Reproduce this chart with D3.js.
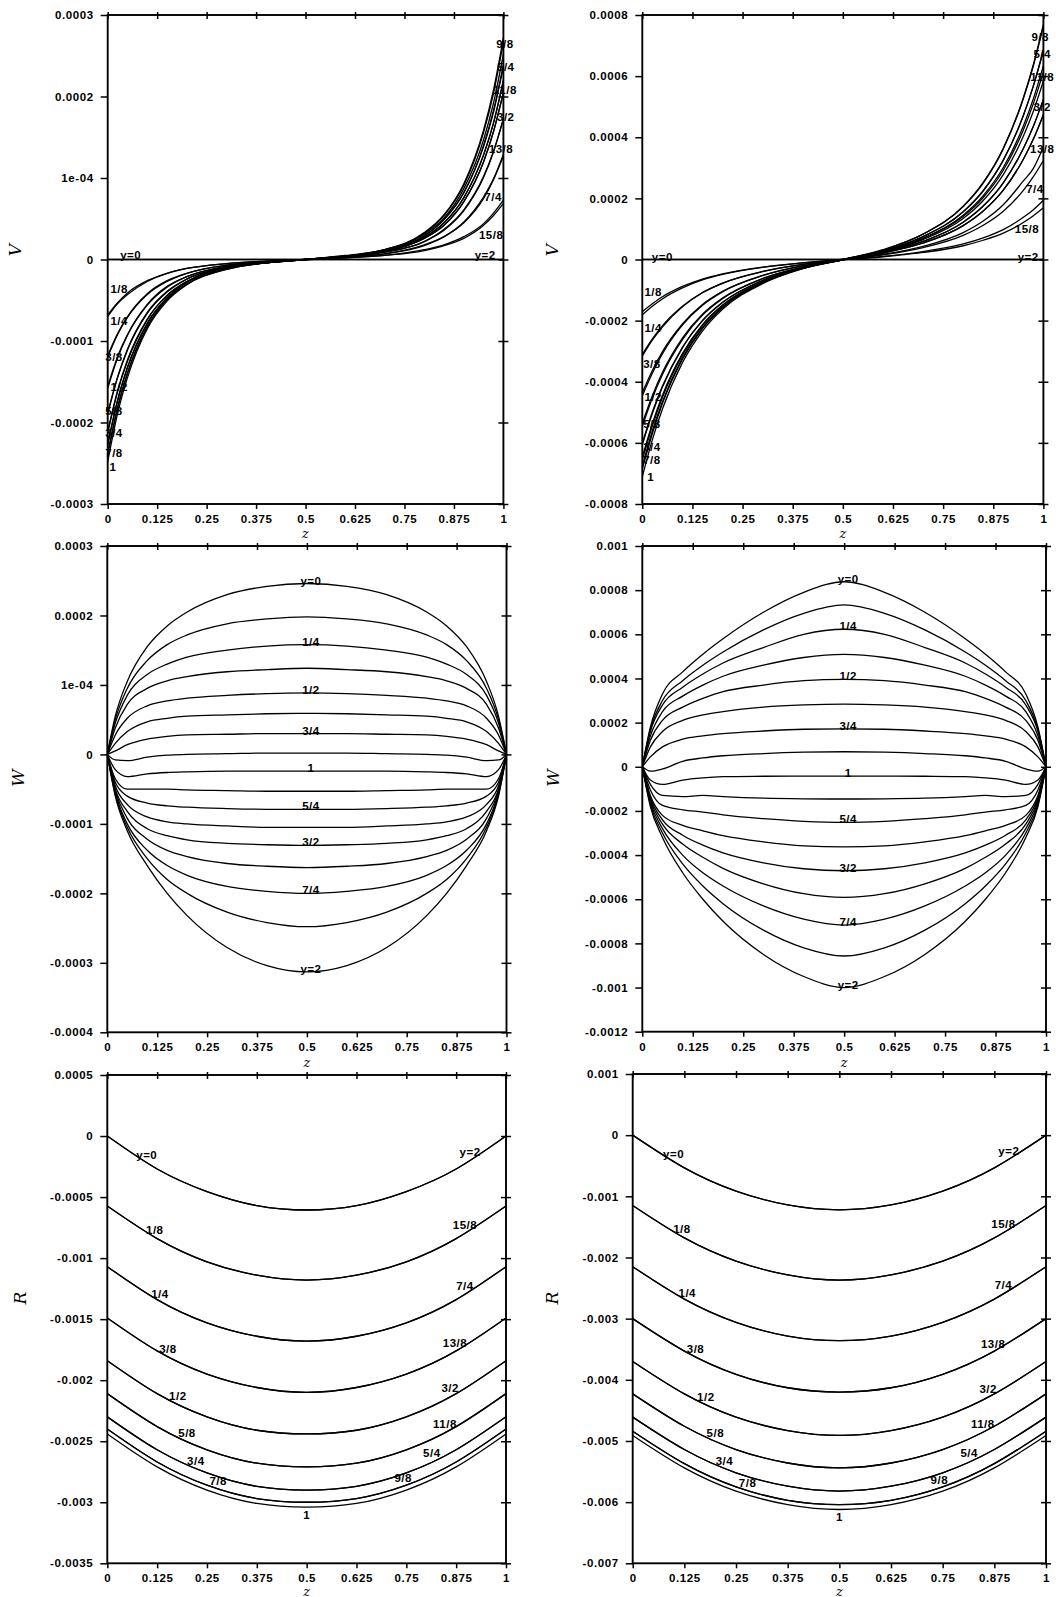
<!DOCTYPE html>
<html>
<head>
<meta charset="utf-8">
<script src="https://cdn.jsdelivr.net/npm/d3@7"></script>
<style>
  body { margin: 0; background: #fff; }
</style>
</head>
<body>
<svg id="fig" width="1056" height="1597"></svg>
<script>
// all values are in units of 1e-4
const curveNames = ['y=0', '1/8', '1/4', '3/8', '1/2', '5/8', '3/4', '7/8', '1',
  '9/8', '5/4', '11/8', '3/2', '13/8', '7/4', '15/8', 'y=2'];

const zTicks = [0, 0.125, 0.25, 0.375, 0.5, 0.625, 0.75, 0.875, 1];
const zTickText = ['0', '0.125', '0.25', '0.375', '0.5', '0.625', '0.75', '0.875', '1'];

// ---- V ----
const vZ = [0, 0.025, 0.05, 0.1, 0.15, 0.2, 0.3, 0.4, 0.5, 0.6, 0.7, 0.8, 0.85, 0.9, 0.95, 0.975, 1];
const zero17 = [0, 0, 0, 0, 0, 0, 0, 0, 0, 0, 0, 0, 0, 0, 0, 0, 0];
const vLeft = [
  zero17,
  [-0.68, -0.53, -0.41, -0.26, -0.17, -0.11, -0.05, -0.02, 0.00, 0.02, 0.05, 0.11, 0.17, 0.26, 0.42, 0.54, 0.69],
  [-1.18, -0.91, -0.70, -0.42, -0.26, -0.17, -0.07, -0.03, 0.00, 0.03, 0.07, 0.17, 0.28, 0.45, 0.75, 0.98, 1.27],
  [-1.56, -1.19, -0.92, -0.55, -0.33, -0.21, -0.08, -0.03, 0.00, 0.03, 0.09, 0.22, 0.36, 0.60, 1.01, 1.32, 1.72],
  [-1.88, -1.44, -1.10, -0.65, -0.39, -0.24, -0.10, -0.04, 0.00, 0.04, 0.10, 0.26, 0.42, 0.71, 1.20, 1.57, 2.05],
  [-2.11, -1.61, -1.23, -0.73, -0.44, -0.27, -0.10, -0.04, 0.00, 0.04, 0.10, 0.27, 0.45, 0.76, 1.28, 1.67, 2.19],
  [-2.26, -1.72, -1.32, -0.78, -0.47, -0.28, -0.11, -0.04, 0.00, 0.04, 0.11, 0.29, 0.49, 0.82, 1.39, 1.81, 2.37],
  [-2.38, -1.81, -1.39, -0.82, -0.49, -0.30, -0.11, -0.04, 0.00, 0.04, 0.12, 0.32, 0.54, 0.91, 1.56, 2.04, 2.67],
  [-2.48, -1.89, -1.45, -0.85, -0.51, -0.31, -0.12, -0.04, 0.00, 0.04, 0.12, 0.31, 0.51, 0.87, 1.47, 1.92, 2.52],
  [-2.40, -1.83, -1.40, -0.83, -0.49, -0.30, -0.12, -0.04, 0.00, 0.05, 0.12, 0.33, 0.55, 0.93, 1.59, 2.08, 2.72],
  [-2.28, -1.74, -1.33, -0.79, -0.47, -0.28, -0.11, -0.04, 0.00, 0.04, 0.11, 0.29, 0.49, 0.82, 1.40, 1.83, 2.39],
  [-2.13, -1.62, -1.25, -0.74, -0.44, -0.27, -0.10, -0.04, 0.00, 0.04, 0.10, 0.27, 0.45, 0.76, 1.29, 1.68, 2.20],
  [-1.90, -1.45, -1.11, -0.66, -0.40, -0.24, -0.10, -0.04, 0.00, 0.04, 0.10, 0.26, 0.42, 0.71, 1.20, 1.57, 2.05],
  [-1.58, -1.21, -0.93, -0.56, -0.34, -0.21, -0.09, -0.03, 0.00, 0.03, 0.09, 0.22, 0.37, 0.61, 1.02, 1.33, 1.73],
  [-1.20, -0.92, -0.71, -0.43, -0.27, -0.17, -0.07, -0.03, 0.00, 0.03, 0.07, 0.18, 0.28, 0.46, 0.77, 0.99, 1.29],
  [-0.70, -0.54, -0.43, -0.27, -0.17, -0.11, -0.05, -0.02, 0.00, 0.02, 0.05, 0.12, 0.18, 0.28, 0.44, 0.57, 0.73],
  zero17
];
const vRight = [
  zero17,
  [-1.71, -1.45, -1.22, -0.88, -0.64, -0.47, -0.25, -0.11, -0.01, 0.09, 0.23, 0.45, 0.63, 0.86, 1.21, 1.43, 1.69],
  [-3.11, -2.60, -2.17, -1.53, -1.08, -0.77, -0.39, -0.16, 0.00, 0.15, 0.39, 0.79, 1.12, 1.58, 2.26, 2.71, 3.24],
  [-4.36, -3.63, -3.02, -2.11, -1.47, -1.04, -0.52, -0.20, 0.00, 0.21, 0.54, 1.11, 1.59, 2.27, 3.28, 3.94, 4.74],
  [-5.36, -4.46, -3.70, -2.57, -1.79, -1.26, -0.62, -0.25, -0.01, 0.22, 0.59, 1.22, 1.75, 2.51, 3.63, 4.36, 5.24],
  [-6.01, -4.99, -4.15, -2.87, -1.99, -1.40, -0.68, -0.27, -0.01, 0.24, 0.65, 1.34, 1.93, 2.78, 4.03, 4.85, 5.84],
  [-6.46, -5.37, -4.45, -3.08, -2.13, -1.49, -0.73, -0.29, -0.01, 0.26, 0.70, 1.45, 2.09, 3.01, 4.37, 5.26, 6.34],
  [-6.76, -5.61, -4.66, -3.22, -2.23, -1.56, -0.76, -0.29, -0.01, 0.28, 0.75, 1.56, 2.25, 3.25, 4.71, 5.68, 6.84],
  [-7.11, -5.90, -4.90, -3.38, -2.34, -1.63, -0.79, -0.30, 0.00, 0.31, 0.83, 1.73, 2.50, 3.62, 5.26, 6.34, 7.64],
  [-6.86, -5.70, -4.72, -3.27, -2.26, -1.58, -0.77, -0.29, 0.00, 0.32, 0.83, 1.74, 2.52, 3.64, 5.29, 6.38, 7.69],
  [-6.56, -5.45, -4.52, -3.13, -2.16, -1.51, -0.74, -0.28, 0.00, 0.28, 0.75, 1.56, 2.25, 3.25, 4.71, 5.68, 6.84],
  [-6.06, -5.04, -4.18, -2.89, -2.01, -1.41, -0.69, -0.27, 0.00, 0.25, 0.68, 1.41, 2.03, 2.92, 4.24, 5.10, 6.14],
  [-5.46, -4.54, -3.77, -2.62, -1.82, -1.28, -0.63, -0.25, -0.01, 0.22, 0.59, 1.22, 1.75, 2.51, 3.63, 4.36, 5.24],
  [-4.46, -3.72, -3.09, -2.15, -1.50, -1.06, -0.53, -0.21, 0.00, 0.21, 0.54, 1.11, 1.59, 2.27, 3.28, 3.94, 4.74],
  [-3.16, -2.64, -2.21, -1.55, -1.09, -0.78, -0.40, -0.16, 0.00, 0.17, 0.43, 0.88, 1.26, 1.79, 2.57, 2.98, 3.69],
  [-1.81, -1.53, -1.29, -0.93, -0.67, -0.49, -0.26, -0.11, 0.00, 0.10, 0.26, 0.51, 0.71, 0.98, 1.38, 1.63, 1.94],
  zero17
];

// ---- W ----
const wZ = [0, 0.02, 0.05, 0.1, 0.15, 0.2, 0.3, 0.4, 0.5, 0.6, 0.7, 0.8, 0.85, 0.9, 0.95, 0.98, 1];
const wLeft = [
  [0, 0.55, 1.05, 1.55, 1.85, 2.05, 2.3, 2.42, 2.46, 2.42, 2.3, 2.05, 1.85, 1.55, 1.05, 0.55, 0],
  [0, 0.5, 0.95, 1.35, 1.58, 1.72, 1.88, 1.95, 1.98, 1.95, 1.88, 1.72, 1.58, 1.35, 0.95, 0.5, 0],
  [0, 0.45, 0.85, 1.15, 1.3, 1.4, 1.5, 1.56, 1.58, 1.56, 1.5, 1.4, 1.3, 1.15, 0.85, 0.45, 0],
  [0, 0.38, 0.72, 0.95, 1.06, 1.12, 1.19, 1.22, 1.24, 1.22, 1.19, 1.12, 1.06, 0.95, 0.72, 0.38, 0],
  [0, 0.28, 0.52, 0.7, 0.77, 0.81, 0.85, 0.875, 0.885, 0.875, 0.85, 0.81, 0.77, 0.7, 0.52, 0.28, 0],
  [0, 0.16, 0.33, 0.47, 0.52, 0.55, 0.57, 0.585, 0.59, 0.585, 0.57, 0.55, 0.52, 0.47, 0.33, 0.16, 0],
  [0, 0.05, 0.14, 0.22, 0.26, 0.28, 0.29, 0.3, 0.3, 0.3, 0.29, 0.28, 0.26, 0.22, 0.14, 0.05, 0],
  [0, -0.08, -0.09, -0.04, -0.01, 0, 0.01, 0.02, 0.02, 0.02, 0.01, 0, -0.01, -0.04, -0.09, -0.08, 0],
  [0, -0.22, -0.32, -0.28, -0.26, -0.25, -0.24, -0.24, -0.24, -0.24, -0.24, -0.25, -0.26, -0.28, -0.32, -0.22, 0],
  [0, -0.35, -0.5, -0.5, -0.5, -0.51, -0.52, -0.53, -0.53, -0.53, -0.52, -0.51, -0.5, -0.5, -0.5, -0.35, 0],
  [0, -0.4, -0.6, -0.7, -0.74, -0.76, -0.78, -0.79, -0.79, -0.79, -0.78, -0.76, -0.74, -0.7, -0.6, -0.4, 0],
  [0, -0.45, -0.72, -0.9, -0.97, -1.0, -1.03, -1.05, -1.05, -1.05, -1.03, -1.0, -0.97, -0.9, -0.72, -0.45, 0],
  [0, -0.5, -0.82, -1.07, -1.17, -1.23, -1.28, -1.3, -1.31, -1.3, -1.28, -1.23, -1.17, -1.07, -0.82, -0.5, 0],
  [0, -0.52, -0.92, -1.22, -1.38, -1.47, -1.57, -1.61, -1.63, -1.61, -1.57, -1.47, -1.38, -1.22, -0.92, -0.52, 0],
  [0, -0.55, -1.0, -1.38, -1.6, -1.74, -1.9, -1.97, -2.0, -1.97, -1.9, -1.74, -1.6, -1.38, -1.0, -0.55, 0],
  [0, -0.58, -1.05, -1.5, -1.8, -2.0, -2.27, -2.42, -2.48, -2.42, -2.27, -2.0, -1.8, -1.5, -1.05, -0.58, 0],
  [0, -0.6, -1.1, -1.6, -2.0, -2.32, -2.78, -3.04, -3.13, -3.04, -2.78, -2.32, -2.0, -1.6, -1.1, -0.6, 0]
];
const wRight = [
  [0, 1.8, 3.3, 4.3, 5.1, 5.8, 7.0, 7.9, 8.38, 7.9, 7.0, 5.8, 5.1, 4.3, 3.3, 1.8, 0],
  [0, 1.7, 3.0, 3.9, 4.6, 5.2, 6.2, 6.95, 7.33, 6.95, 6.2, 5.2, 4.6, 3.9, 3.0, 1.7, 0],
  [0, 1.6, 2.8, 3.6, 4.2, 4.7, 5.4, 6.0, 6.23, 6.0, 5.4, 4.7, 4.2, 3.6, 2.8, 1.6, 0],
  [0, 1.4, 2.5, 3.2, 3.7, 4.1, 4.6, 4.95, 5.09, 4.95, 4.6, 4.1, 3.7, 3.2, 2.5, 1.4, 0],
  [0, 1.2, 2.1, 2.7, 3.1, 3.4, 3.7, 3.9, 3.96, 3.9, 3.7, 3.4, 3.1, 2.7, 2.1, 1.2, 0],
  [0, 0.9, 1.6, 2.1, 2.35, 2.5, 2.7, 2.8, 2.84, 2.8, 2.7, 2.5, 2.35, 2.1, 1.6, 0.9, 0],
  [0, 0.45, 0.9, 1.25, 1.4, 1.5, 1.62, 1.7, 1.72, 1.7, 1.62, 1.5, 1.4, 1.25, 0.9, 0.45, 0],
  [0, -0.2, -0.1, 0.25, 0.4, 0.5, 0.6, 0.66, 0.68, 0.66, 0.6, 0.5, 0.4, 0.25, -0.1, -0.2, 0],
  [0, -0.6, -0.8, -0.6, -0.5, -0.45, -0.43, -0.42, -0.42, -0.42, -0.43, -0.45, -0.5, -0.6, -0.8, -0.6, 0],
  [0, -0.8, -1.3, -1.35, -1.3, -1.35, -1.42, -1.45, -1.46, -1.45, -1.42, -1.35, -1.3, -1.35, -1.3, -0.8, 0],
  [0, -1.05, -1.75, -1.95, -2.05, -2.18, -2.35, -2.47, -2.52, -2.47, -2.35, -2.18, -2.05, -1.95, -1.75, -1.05, 0],
  [0, -1.3, -2.2, -2.65, -2.9, -3.12, -3.4, -3.58, -3.63, -3.58, -3.4, -3.12, -2.9, -2.65, -2.2, -1.3, 0],
  [0, -1.4, -2.4, -3.1, -3.55, -3.9, -4.35, -4.62, -4.71, -4.62, -4.35, -3.9, -3.55, -3.1, -2.4, -1.4, 0],
  [0, -1.5, -2.6, -3.5, -4.1, -4.6, -5.3, -5.75, -5.92, -5.75, -5.3, -4.6, -4.1, -3.5, -2.6, -1.5, 0],
  [0, -1.6, -2.8, -4.0, -4.8, -5.4, -6.3, -6.9, -7.17, -6.9, -6.3, -5.4, -4.8, -4.0, -2.8, -1.6, 0],
  [0, -1.7, -3.0, -4.4, -5.4, -6.2, -7.4, -8.2, -8.57, -8.2, -7.4, -6.2, -5.4, -4.4, -3.0, -1.7, 0],
  [0, -1.8, -3.2, -4.8, -6.0, -7.0, -8.5, -9.5, -10.0, -9.5, -8.5, -7.0, -6.0, -4.8, -3.2, -1.8, 0]
];

// ---- R ---- (curve y and curve 2-y coincide, so y = 0 .. 1 only)
const rZ = [0, 0.125, 0.25, 0.375, 0.5, 0.625, 0.75, 0.875, 1];
const rLeft = [
  [0, -2.7, -4.55, -5.7, -6.06, -5.7, -4.55, -2.7, 0],
  [-5.73, -8.4, -10.3, -11.4, -11.8, -11.4, -10.3, -8.4, -5.73],
  [-10.7, -13.4, -15.3, -16.4, -16.8, -16.4, -15.3, -13.4, -10.7],
  [-14.9, -17.6, -19.5, -20.6, -21.0, -20.6, -19.5, -17.6, -14.9],
  [-18.4, -21.1, -23.0, -24.1, -24.4, -24.1, -23.0, -21.1, -18.4],
  [-21.1, -23.8, -25.7, -26.8, -27.1, -26.8, -25.7, -23.8, -21.1],
  [-23.0, -25.7, -27.6, -28.7, -29.0, -28.7, -27.6, -25.7, -23.0],
  [-24.0, -26.7, -28.6, -29.7, -30.0, -29.7, -28.6, -26.7, -24.0],
  [-24.4, -27.1, -29.0, -30.1, -30.4, -30.1, -29.0, -27.1, -24.4]
];
const rRight = [
  [0, -5.35, -9.15, -11.4, -12.2, -11.4, -9.15, -5.35, 0],
  [-11.5, -16.8, -20.6, -22.85, -23.7, -22.85, -20.6, -16.8, -11.5],
  [-21.5, -26.8, -30.6, -32.85, -33.6, -32.85, -30.6, -26.8, -21.5],
  [-30.0, -35.3, -39.1, -41.3, -42.0, -41.3, -39.1, -35.3, -30.0],
  [-37.0, -42.3, -46.1, -48.3, -49.1, -48.3, -46.1, -42.3, -37.0],
  [-42.3, -47.6, -51.4, -53.6, -54.4, -53.6, -51.4, -47.6, -42.3],
  [-46.1, -51.4, -55.2, -57.4, -58.2, -57.4, -55.2, -51.4, -46.1],
  [-48.4, -53.7, -57.5, -59.7, -60.4, -59.7, -57.5, -53.7, -48.4],
  [-49.1, -54.4, -58.2, -60.4, -61.2, -60.4, -58.2, -54.4, -49.1]
];

// ---- y tick values and their printed text ----
const vLTicks = [-3, -2, -1, 0, 1, 2, 3];
const vLTickText = ['-0.0003', '-0.0002', '-0.0001', '0', '1e-04', '0.0002', '0.0003'];
const vRTicks = [-8, -6, -4, -2, 0, 2, 4, 6, 8];
const vRTickText = ['-0.0008', '-0.0006', '-0.0004', '-0.0002', '0', '0.0002', '0.0004', '0.0006', '0.0008'];
const wLTicks = [-4, -3, -2, -1, 0, 1, 2, 3];
const wLTickText = ['-0.0004', '-0.0003', '-0.0002', '-0.0001', '0', '1e-04', '0.0002', '0.0003'];
const wRTicks = [-12, -10, -8, -6, -4, -2, 0, 2, 4, 6, 8, 10];
const wRTickText = ['-0.0012', '-0.001', '-0.0008', '-0.0006', '-0.0004', '-0.0002', '0', '0.0002', '0.0004', '0.0006', '0.0008', '0.001'];
const rLTicks = [-35, -30, -25, -20, -15, -10, -5, 0, 5];
const rLTickText = ['-0.0035', '-0.003', '-0.0025', '-0.002', '-0.0015', '-0.001', '-0.0005', '0', '0.0005'];
const rRTicks = [-70, -60, -50, -40, -30, -20, -10, 0, 10];
const rRTickText = ['-0.007', '-0.006', '-0.005', '-0.004', '-0.003', '-0.002', '-0.001', '0', '0.001'];

// label anchors for the V panels: [curve index, z, value]
const vLeftLabels = [
  [0, 0.058, 0.05], [1, 0.029, -0.36], [2, 0.029, -0.76], [3, 0.016, -1.2], [4, 0.029, -1.56],
  [5, 0.016, -1.86], [6, 0.016, -2.13], [7, 0.016, -2.38], [8, 0.013, -2.54],
  [9, 1.004, 2.65], [10, 1.006, 2.36], [11, 1.004, 2.08], [12, 1.006, 1.75], [13, 0.994, 1.36],
  [14, 0.974, 0.77], [15, 0.969, 0.30], [16, 0.954, 0.05]
];
const vRightLabels = [
  [0, 0.05, 0.09], [1, 0.027, -1.06], [2, 0.027, -2.23], [3, 0.024, -3.43], [4, 0.027, -4.5],
  [5, 0.024, -5.37], [6, 0.024, -6.13], [7, 0.024, -6.57], [8, 0.021, -7.12],
  [9, 0.992, 7.29], [10, 0.997, 6.74], [11, 0.997, 5.98], [12, 0.997, 5.0], [13, 0.997, 3.63],
  [14, 0.979, 2.32], [15, 0.959, 1.01], [16, 0.962, 0.09]
];
// z where the R labels sit on their curve
const rLabelZLeft = [0.099, 0.119, 0.132, 0.152, 0.177, 0.2, 0.222, 0.278];
const rLabelZRight = [0.91, 0.897, 0.897, 0.872, 0.86, 0.847, 0.814, 0.742];

const sans = '"Liberation Sans", Arial, Helvetica, sans-serif';
const serif = '"DejaVu Serif", "Liberation Serif", serif';
const svg = d3.select('#fig');

function valueAt(zs, vs, z) {
  const i = Math.max(0, Math.min(zs.length - 2, d3.bisectRight(zs, z) - 1));
  const t = (z - zs[i]) / (zs[i + 1] - zs[i]);
  return vs[i] + t * (vs[i + 1] - vs[i]);
}

const rSeries = (arr) => curveNames.map((_, i) => arr[Math.min(i, 16 - i)]);

const panels = [
  { name: 'vL', left: 107.7, right: 503.4, top: 15, bottom: 504, dom: [-3, 3], ticks: vLTicks, tickText: vLTickText,
    z: vZ, series: vLeft, kind: 'V', title: 'V', titleX: 15, titleY: 250, zLabelY: 533, labels: vLeftLabels },
  { name: 'vR', left: 642.3, right: 1043.4, top: 15, bottom: 504, dom: [-8, 8], ticks: vRTicks, tickText: vRTickText,
    z: vZ, series: vRight, kind: 'V', title: 'V', titleX: 552, titleY: 250, zLabelY: 533, labels: vRightLabels },
  { name: 'wL', left: 107.3, right: 506.5, top: 546, bottom: 1032.3, dom: [-4, 3], ticks: wLTicks, tickText: wLTickText,
    z: wZ, series: wLeft, kind: 'W', title: 'W', titleX: 18, titleY: 778, zLabelY: 1062 },
  { name: 'wR', left: 642.3, right: 1046, top: 546, bottom: 1031.7, dom: [-12, 10], ticks: wRTicks, tickText: wRTickText,
    z: wZ, series: wRight, kind: 'W', title: 'W', titleX: 553, titleY: 778, zLabelY: 1062 },
  { name: 'rL', left: 107.3, right: 506, top: 1075, bottom: 1563.3, dom: [-35, 5], ticks: rLTicks, tickText: rLTickText,
    z: rZ, series: rSeries(rLeft), kind: 'R', title: 'R', titleX: 20, titleY: 1298, zLabelY: 1591 },
  { name: 'rR', left: 632.7, right: 1046, top: 1074, bottom: 1563.3, dom: [-70, 10], ticks: rRTicks, tickText: rRTickText,
    z: rZ, series: rSeries(rRight), kind: 'R', title: 'R', titleX: 552, titleY: 1298, zLabelY: 1591 }
];

function styleAxis(a) {
  a.select('.domain').remove();
  a.selectAll('line').attr('stroke', '#000').attr('stroke-width', 1.5);
  a.selectAll('text').attr('font-family', sans).attr('font-size', 11.5).attr('font-weight', 'bold')
    .attr('letter-spacing', 0.6).attr('fill', '#000');
}

function drawPanel(p) {
  const x = d3.scaleLinear().domain([0, 1]).range([p.left, p.right]);
  const y = d3.scaleLinear().domain(p.dom).range([p.bottom, p.top]);
  const g = svg.append('g');

  g.append('clipPath').attr('id', 'clip-' + p.name).append('rect')
    .attr('x', p.left).attr('y', p.top)
    .attr('width', p.right - p.left).attr('height', p.bottom - p.top);

  const line = d3.line()
    .x((d) => x(d[0])).y((d) => y(d[1]))
    .curve(p.kind === 'R' ? d3.curveNatural : d3.curveMonotoneX);

  g.append('g').attr('clip-path', `url(#clip-${p.name})`)
    .selectAll('path').data(p.series).join('path')
    .attr('d', (s) => line(p.z.map((z, i) => [z, s[i]])))
    .attr('fill', 'none').attr('stroke', '#000').attr('stroke-width', 1.3);

  // axes and ticks
  g.append('g').attr('transform', `translate(${p.left},0)`)
    .call(d3.axisLeft(y).tickValues(p.ticks).tickFormat((d, i) => p.tickText[i]).tickSize(7).tickPadding(7))
    .call(styleAxis);
  g.append('g').attr('transform', `translate(${p.right},0)`)
    .call(d3.axisRight(y).tickValues(p.ticks).tickFormat('').tickSize(5)).call(styleAxis);
  g.append('g').attr('transform', `translate(${p.right},0)`)
    .call(d3.axisLeft(y).tickValues(p.ticks).tickFormat('').tickSize(5)).call(styleAxis);
  g.append('g').attr('transform', `translate(0,${p.bottom})`)
    .call(d3.axisBottom(x).tickValues(zTicks).tickFormat((d, i) => zTickText[i]).tickSize(5).tickPadding(6))
    .call(styleAxis);
  g.append('g').attr('transform', `translate(0,${p.top})`)
    .call(d3.axisBottom(x).tickValues(zTicks).tickFormat('').tickSize(4)).call(styleAxis);
  g.append('g').attr('transform', `translate(0,${p.top})`)
    .call(d3.axisTop(x).tickValues(zTicks).tickFormat('').tickSize(3)).call(styleAxis);

  g.append('rect')
    .attr('x', p.left).attr('y', p.top)
    .attr('width', p.right - p.left).attr('height', p.bottom - p.top)
    .attr('fill', 'none').attr('stroke', '#000').attr('stroke-width', 1.9);

  // axis titles
  g.append('text').attr('x', (p.left + p.right) / 2).attr('y', p.zLabelY)
    .attr('text-anchor', 'middle').attr('dominant-baseline', 'central')
    .attr('font-family', serif).attr('font-style', 'italic').attr('font-size', 13).text('z');
  g.append('text').attr('transform', `translate(${p.titleX},${p.titleY}) rotate(-90)`)
    .attr('text-anchor', 'middle').attr('dominant-baseline', 'central')
    .attr('font-family', serif).attr('font-style', 'italic').attr('font-size', 17).text(p.title);

  // curve labels
  const lab = g.append('g').attr('font-family', sans).attr('font-size', 11.5).attr('font-weight', 'bold')
    .attr('letter-spacing', 0.5).attr('text-anchor', 'middle');
  if (p.kind === 'V') {
    p.labels.forEach(([i, z, v]) => {
      lab.append('text').attr('x', x(z)).attr('y', y(v))
        .attr('dominant-baseline', 'central').text(curveNames[i]);
    });
  } else if (p.kind === 'W') {
    p.series.forEach((s, i) => {
      if (i % 2) return;
      lab.append('text').attr('x', x(0.51)).attr('y', y(valueAt(p.z, s, 0.5)) + 1).text(curveNames[i]);
    });
  } else {
    rLabelZLeft.forEach((z, i) => {
      lab.append('text').attr('x', x(z)).attr('y', y(valueAt(p.z, p.series[i], z)) - 3).text(curveNames[i]);
    });
    rLabelZRight.forEach((z, k) => {
      const i = 16 - k;
      lab.append('text').attr('x', x(z)).attr('y', y(valueAt(p.z, p.series[i], z)) - 4).text(curveNames[i]);
    });
    lab.append('text').attr('x', x(0.5)).attr('y', y(valueAt(p.z, p.series[8], 0.5)) + 12).text(curveNames[8]);
  }
}

panels.forEach(drawPanel);
</script>
</body>
</html>
